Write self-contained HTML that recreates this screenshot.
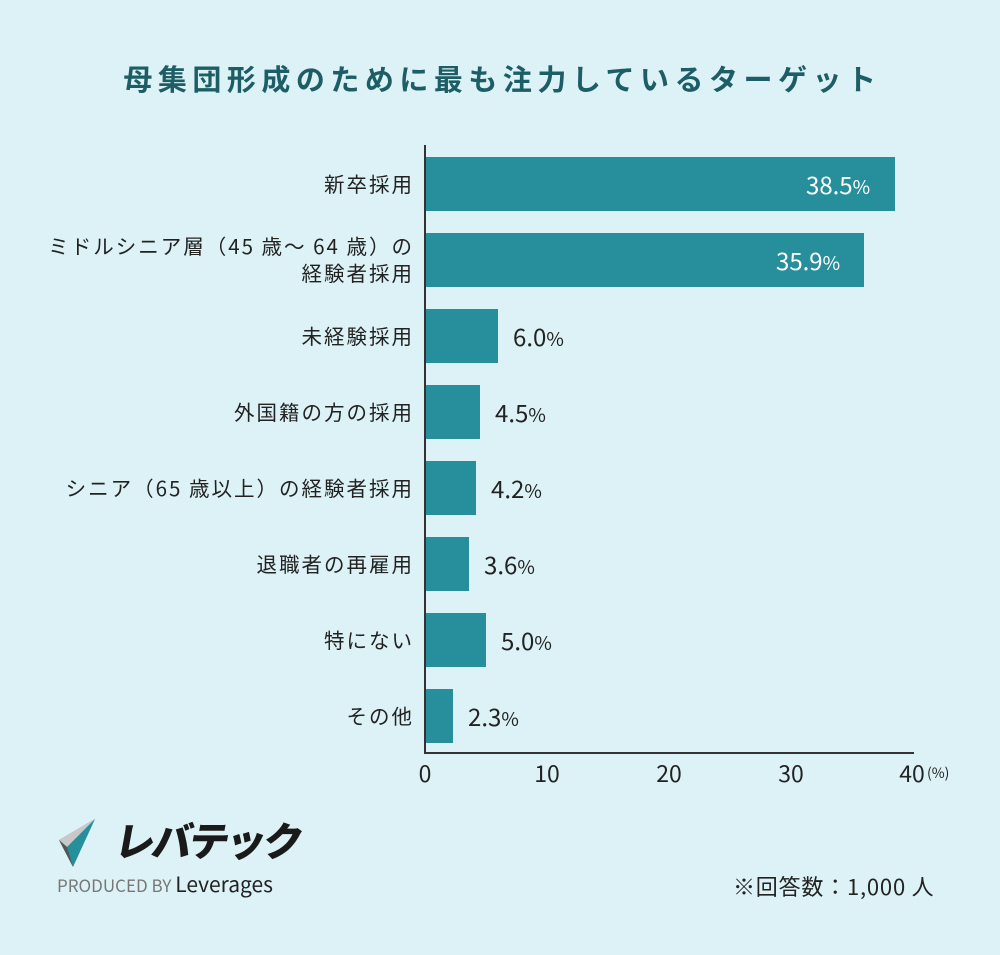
<!DOCTYPE html>
<html><head><meta charset="utf-8"><style>
html,body{margin:0;padding:0}
body{width:1000px;height:955px;background:#ddf2f6;position:relative;overflow:hidden;font-family:"Noto Sans CJK JP","Liberation Sans",sans-serif;color:#222}
.t{position:absolute;left:0;width:1000px;top:58px;line-height:40px;text-align:center;font-size:29px;font-weight:bold;color:#1d5e66;letter-spacing:5.5px;text-indent:5px}
.lab{position:absolute;right:586px;font-size:20.5px;letter-spacing:2px;text-align:right;line-height:27px;color:#222;white-space:nowrap}
.bar{position:absolute;left:426px;height:54px;background:#268f9b}
.v{position:absolute;font-size:24px;line-height:54px}
.v small{font-size:19px}
.tick{position:absolute;top:757px;line-height:30px;font-size:23px;width:60px;margin-left:-30px;text-align:center}
</style></head><body>
<div class="t">母集団形成のために最も注力しているターゲット</div>
<div style="position:absolute;left:424px;top:145px;width:2px;height:608px;background:#333"></div>
<div style="position:absolute;left:424px;top:752px;width:490px;height:2px;background:#333"></div>

<div class="bar" style="top:157px;width:469px"></div><div class="v" style="top:157px;left:806px;color:#fff">38.5<small>%</small></div>
<div class="bar" style="top:233px;width:438px"></div><div class="v" style="top:233px;left:776px;color:#fff">35.9<small>%</small></div>
<div class="bar" style="top:309px;width:72px"></div><div class="v" style="top:309px;left:513px">6.0<small>%</small></div>
<div class="bar" style="top:385px;width:54px"></div><div class="v" style="top:385px;left:495px">4.5<small>%</small></div>
<div class="bar" style="top:461px;width:50px"></div><div class="v" style="top:461px;left:491px">4.2<small>%</small></div>
<div class="bar" style="top:537px;width:43px"></div><div class="v" style="top:537px;left:484px">3.6<small>%</small></div>
<div class="bar" style="top:613px;width:60px"></div><div class="v" style="top:613px;left:501px">5.0<small>%</small></div>
<div class="bar" style="top:689px;width:27px"></div><div class="v" style="top:689px;left:468px">2.3<small>%</small></div>

<div class="lab" style="top:170px">新卒採用</div>
<div class="lab" style="top:232px">ミドルシニア層（45 歳〜 64 歳）の<br>経験者採用</div>
<div class="lab" style="top:322px">未経験採用</div>
<div class="lab" style="top:398px">外国籍の方の採用</div>
<div class="lab" style="top:474px">シニア（65 歳以上）の経験者採用</div>
<div class="lab" style="top:550px">退職者の再雇用</div>
<div class="lab" style="top:626px">特にない</div>
<div class="lab" style="top:702px">その他</div>

<div class="tick" style="left:425px">0</div>
<div class="tick" style="left:547px">10</div>
<div class="tick" style="left:669px">20</div>
<div class="tick" style="left:791px">30</div>
<div class="tick" style="left:912px">40</div>
<div style="position:absolute;left:927px;top:764px;line-height:18px;font-size:14px">(%)</div>

<svg style="position:absolute;left:55px;top:815px" width="60" height="55" viewBox="0 0 60 55">
<polygon points="4,25 40,4 18,52" fill="#268f9b"/>
<polygon points="4,25 40,4 12,32" fill="#c8c8c8"/>
<polygon points="4,25 12,32 18,52" fill="#555"/>
</svg>
<div style="position:absolute;left:116px;top:814px;line-height:50px;font-size:40px;font-weight:900;color:#1a1a1a;letter-spacing:-3px;transform:skewX(-10deg)">レバテック</div>
<div style="position:absolute;left:57px;top:869px;line-height:30px;font-size:17px;color:#777">PRODUCED BY <span style="color:#222;font-size:21px">Leverages</span></div>
<div style="position:absolute;left:733px;top:871px;line-height:30px;font-size:22px;letter-spacing:0.8px">※回答数：1,000 人</div>
</body></html>
